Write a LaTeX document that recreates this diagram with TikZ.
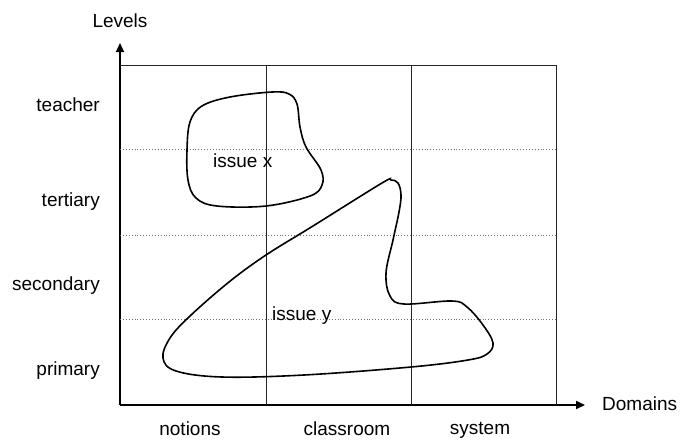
\documentclass[tikz,border=0pt]{standalone}
\usepackage{fontspec}
\setmainfont{Liberation Sans}
\usetikzlibrary{arrows.meta}
\begin{document}
\begin{tikzpicture}[x=1pt,y=-1pt,
  lbl/.style={font=\fontsize{19}{21}\selectfont, inner sep=0pt},
  axis/.style={line width=1.8pt, -{Triangle[length=9pt,width=8pt]}},
  gridline/.style={line width=1pt, black!85},
  dotline/.style={line width=0.9pt, black!55, dotted},
  blob/.style={line width=1.6pt}
]
\useasboundingbox (0,0) rectangle (682,440);
% axes
\coordinate (O) at (120,405);
\coordinate (Ytip) at (120,43);
\coordinate (Xtip) at (585,405);
\draw[axis] (O) -- (Ytip);
\draw[axis] (O) -- (Xtip);
% frame
\coordinate (TL) at (120,65);
\coordinate (TR) at (556,65);
\coordinate (BR) at (556,405);
\draw[gridline] (TL) -- (TR) -- (BR);
\coordinate (V1t) at (266,65);  \coordinate (V1b) at (266,405);
\coordinate (V2t) at (411,65);  \coordinate (V2b) at (411,405);
\draw[gridline] (V1t) -- (V1b);
\draw[gridline] (V2t) -- (V2b);
% dotted level separators
\coordinate (H1l) at (120,149); \coordinate (H1r) at (556,149);
\coordinate (H2l) at (120,235); \coordinate (H2r) at (556,235);
\coordinate (H3l) at (120,319); \coordinate (H3r) at (556,319);
\draw[dotline] (H1l) -- (H1r);
\draw[dotline] (H2l) -- (H2r);
\draw[dotline] (H3l) -- (H3r);
% axis labels
\node[lbl, anchor=base] (levels) at (120,27) {Levels};
\node[lbl, anchor=base west] (domains) at (602,410) {Domains};
\node[lbl, anchor=base east] (teacher) at (100,111) {teacher};
\node[lbl, anchor=base east] (tertiary) at (100,206) {tertiary};
\node[lbl, anchor=base east] (secondary) at (100,290) {secondary};
\node[lbl, anchor=base east] (primary) at (100,375) {primary};
\node[lbl, anchor=base] (notions) at (190,435) {notions};
\node[lbl, anchor=base] (classroom) at (347,435) {classroom};
\node[lbl, anchor=base] (system) at (480,434) {system};
% issue x
\draw[blob] plot[smooth cycle, tension=0.6] coordinates {
  (202,106) (230,97) (272,92) (289,94) (297,104) (300,127) (306,147)
  (321,170) (322,185) (310,196) (266,206) (217,206) (196,198)
  (188,180) (187,150) (190,122)};
\node[lbl, anchor=base west] (issuex) at (213,167) {issue x};
% issue y
\draw[blob] plot[smooth cycle, tension=0.6] coordinates {
  (391,180) (398,183) (401,195) (399,212) (393,240) (386,273) (390,296) (404,304)
  (452,301) (467,307) (483,325) (493,343) (487,354) (468,360) (411,367)
  (304,375) (222,377) (176,371) (163,358) (170,338) (190,316)
  (229,282) (266,255) (313,226) (382,183)};
\node[lbl, anchor=base west] (issuey) at (272,320) {issue y};
\end{tikzpicture}
\end{document}
